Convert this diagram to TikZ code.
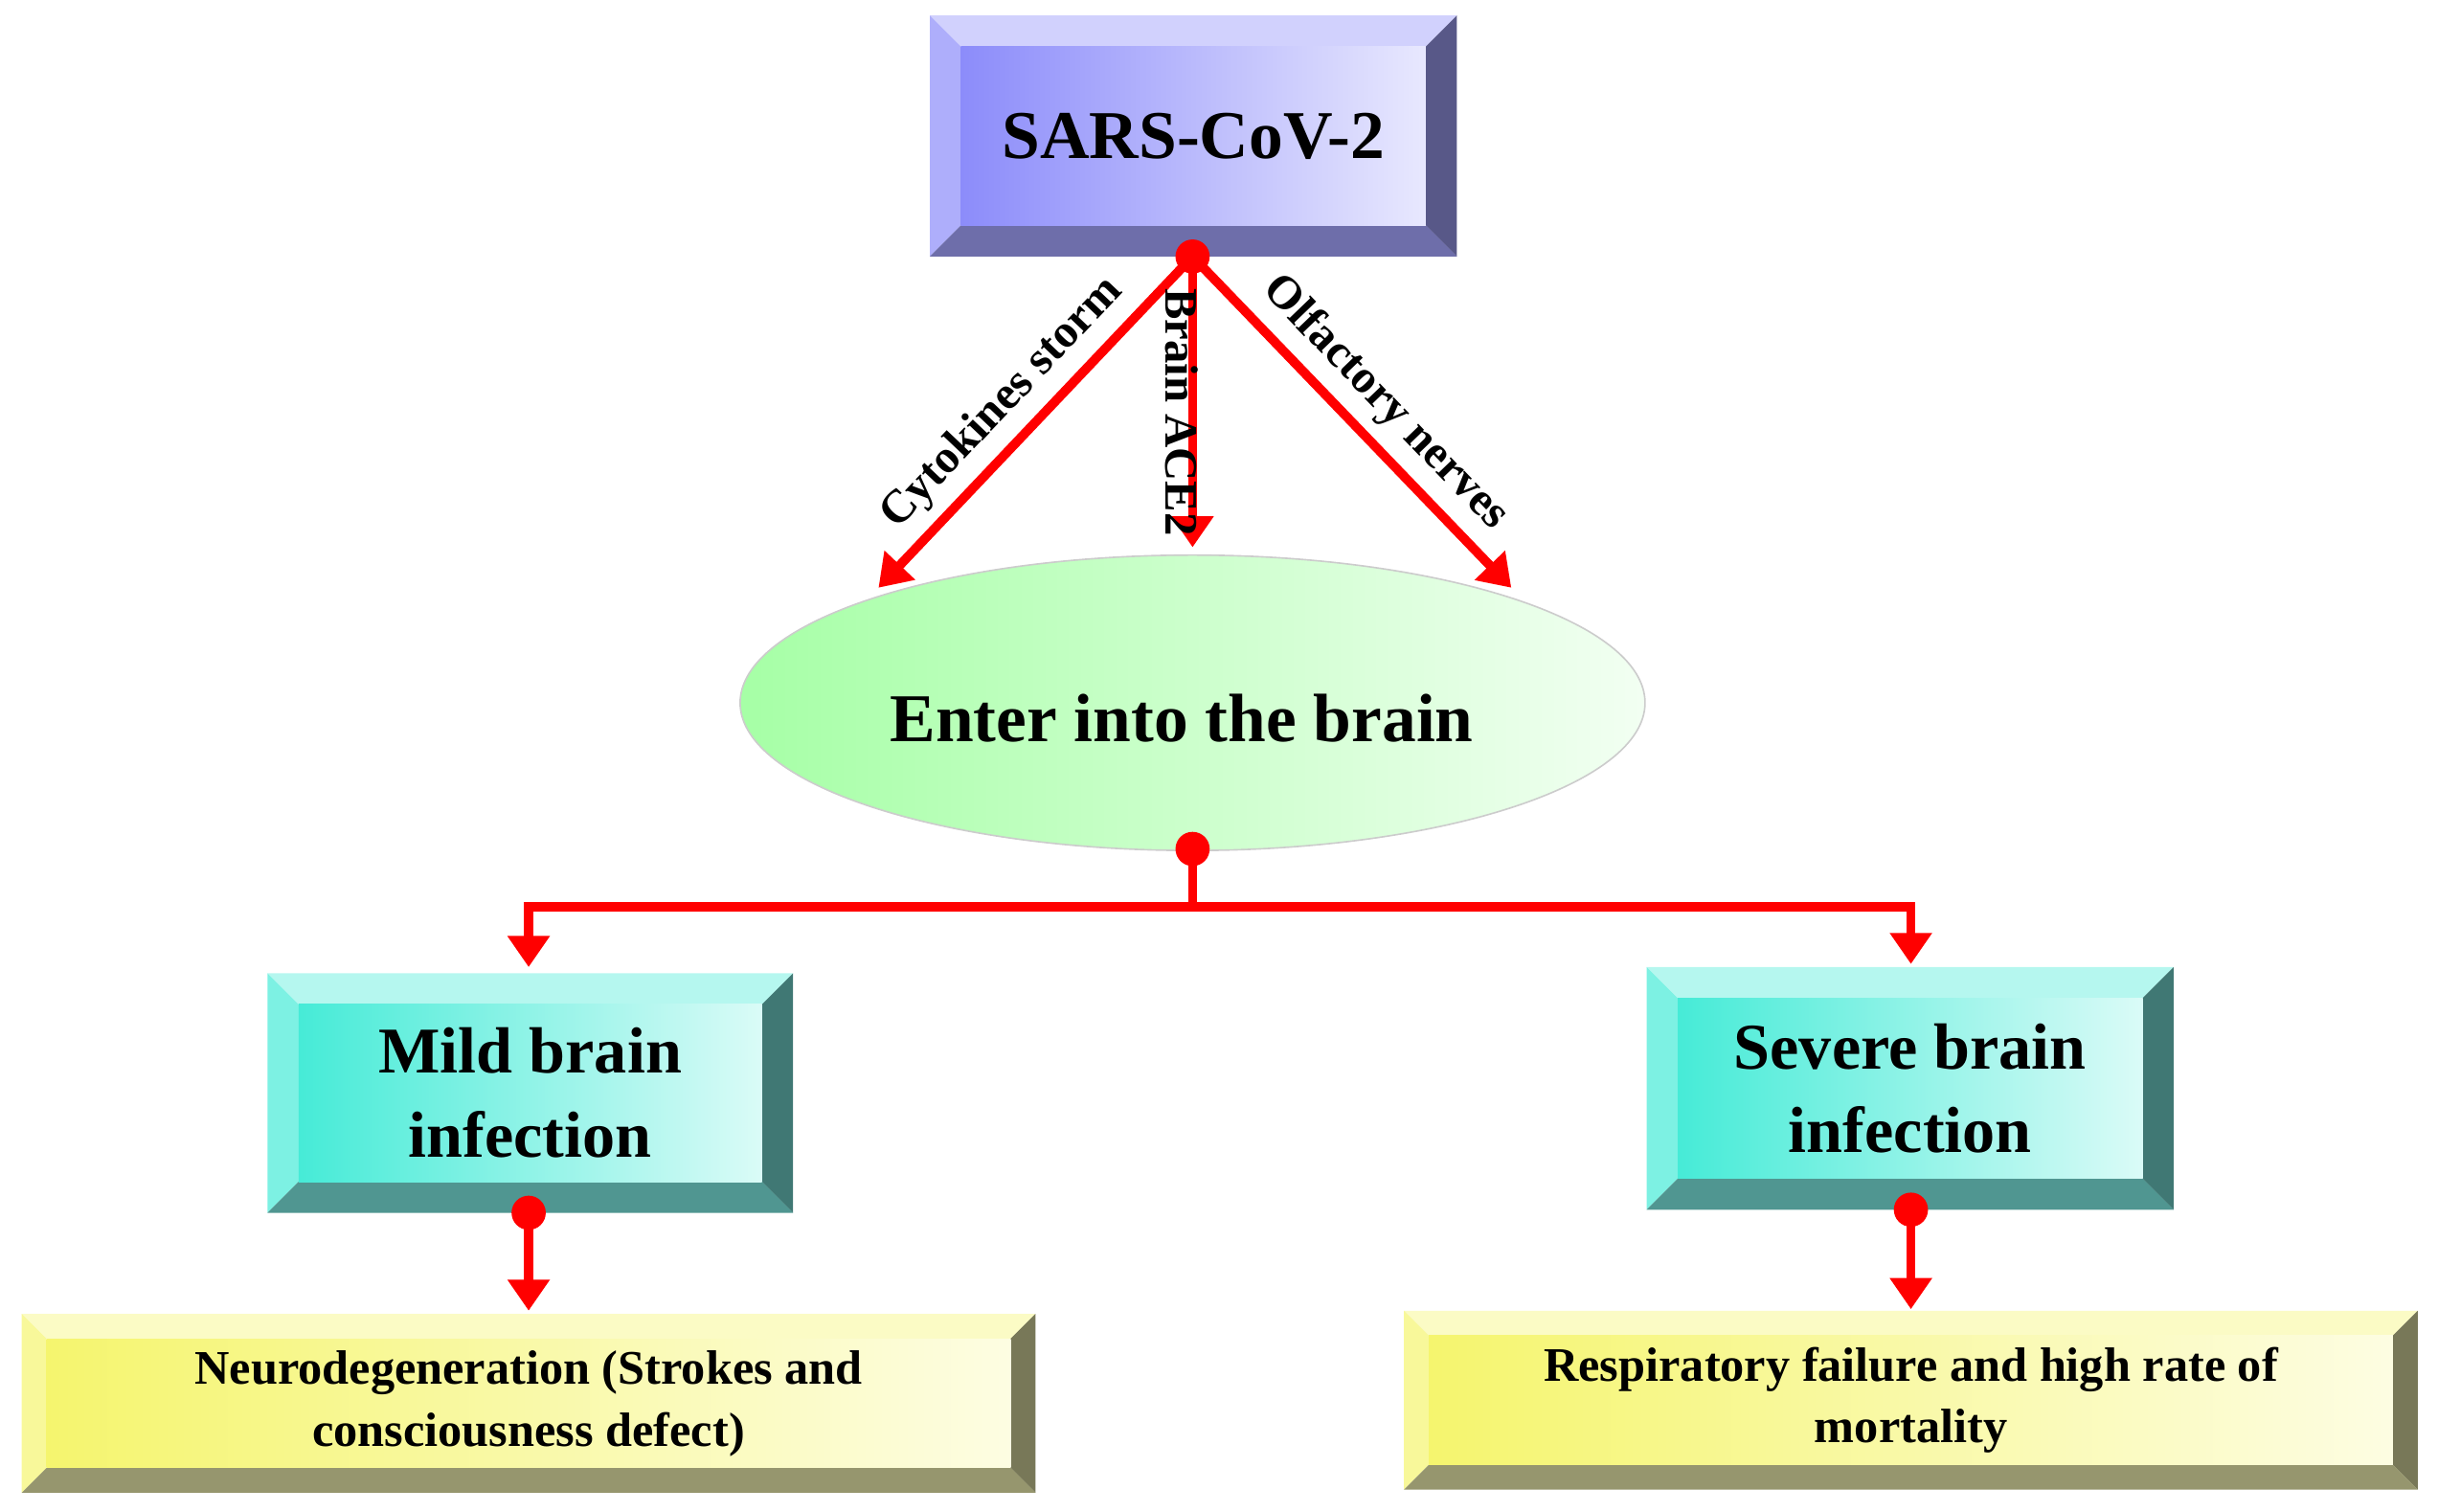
\documentclass[tikz,border=0pt]{standalone}
\usepackage{fontspec}
\setmainfont{Liberation Serif}
\usetikzlibrary{arrows.meta,shapes.geometric}
\definecolor{bluel}{RGB}{140,140,250}
\definecolor{blued}{RGB}{110,110,170}
\definecolor{cyanl}{RGB}{70,235,215}
\definecolor{cyand}{RGB}{80,150,145}
\definecolor{yell}{RGB}{245,245,110}
\definecolor{yeld}{RGB}{150,150,110}
\newcommand{\bevbox}[9]{% name x1 y1 x2 y2 inset light dark text
  \fill[#7!40!white] (#2,#3) -- (#4,#3) -- (#4-#6,#3+#6) -- (#2+#6,#3+#6) -- cycle;
  \fill[#7!70!white] (#2,#3) -- (#2+#6,#3+#6) -- (#2+#6,#5-#6) -- (#2,#5) -- cycle;
  \fill[#8!80!black] (#4,#3) -- (#4,#5) -- (#4-#6,#5-#6) -- (#4-#6,#3+#6) -- cycle;
  \fill[#8] (#2,#5) -- (#4,#5) -- (#4-#6,#5-#6) -- (#2+#6,#5-#6) -- cycle;
  \shade[left color=#7, right color=#7!20!white] (#2+#6,#3+#6) rectangle (#4-#6,#5-#6);
  \node[txt] (#1) at ({(#2+#4)/2},{(#3+#5)/2}) {#9};
}
\begin{document}
\begin{tikzpicture}[x=1pt,y=-1pt,
  txt/.style={align=center},
  big/.style={font=\bfseries\fontsize{42}{54}\selectfont},
  small/.style={font=\bfseries\fontsize{31}{40}\selectfont},
  red line/.style={draw=red,line width=6pt},
  arrn/.style={red line,-{Triangle[length=20pt,width=26pt]}},
  dot/.style={circle,fill=red,minimum size=22pt,inner sep=0pt},
  lab/.style={font=\bfseries\fontsize{30}{32}\selectfont,inner sep=3pt}]
\useasboundingbox (0,0) rectangle (1568,972);
\bevbox{sars}{598}{10}{937}{165}{20}{bluel}{blued}{\fontsize{44}{50}\selectfont\bfseries SARS-CoV-2}
\shade[left color=green!35!white, right color=green!5!white, draw=gray!40, line width=1pt] (767,452) ellipse [x radius=291, y radius=95];
\node[txt,font=\bfseries\fontsize{44}{50}\selectfont] (brain) at (760,462) {Enter into the brain};
\coordinate (etop) at (767,352);
\coordinate (el) at (565,378);
\coordinate (er) at (972,378);
\coordinate (split) at (767,583);
\bevbox{mild}{172}{626}{510}{780}{20}{cyanl}{cyand}{\begin{tikzpicture}\node[big,align=center]{Mild brain\\infection};\end{tikzpicture}}
\bevbox{sev}{1059}{622}{1398}{778}{20}{cyanl}{cyand}{\begin{tikzpicture}\node[big,align=center]{Severe brain\\infection};\end{tikzpicture}}
\bevbox{neuro}{14}{845}{666}{960}{16}{yell}{yeld}{\begin{tikzpicture}\node[small,align=center]{Neurodegeneration (Strokes and\\consciousness defect)};\end{tikzpicture}}
\bevbox{resp}{903}{843}{1555}{958}{16}{yell}{yeld}{\begin{tikzpicture}\node[small,align=center]{Respiratory failure and high rate of\\mortality};\end{tikzpicture}}
\node[dot] (s) at (767,165) {};
\node[dot] (ebot) at (767,546) {};
\node[dot] (d1) at (340,780) {};
\node[dot] (d2) at (1229,778) {};
\draw[arrn] (s.center) -- (el) node[lab,pos=0.52,sloped,above=4pt] {Cytokines storm};
\draw[arrn] (s.center) -- (etop);
\node[lab,rotate=-90,anchor=north] (ace) at (774,265) {Brain ACE2};
\draw[arrn] (s.center) -- (er) node[lab,pos=0.52,sloped,above=4pt] {Olfactory nerves};
\draw[red line] (ebot.center) -- (split);
\draw[arrn] (split) -| (340,622);
\draw[arrn] (split) -| (1229,620);
\draw[arrn] (d1.center) -- (340,843);
\draw[arrn] (d2.center) -- (1229,842);
\end{tikzpicture}
\end{document}
